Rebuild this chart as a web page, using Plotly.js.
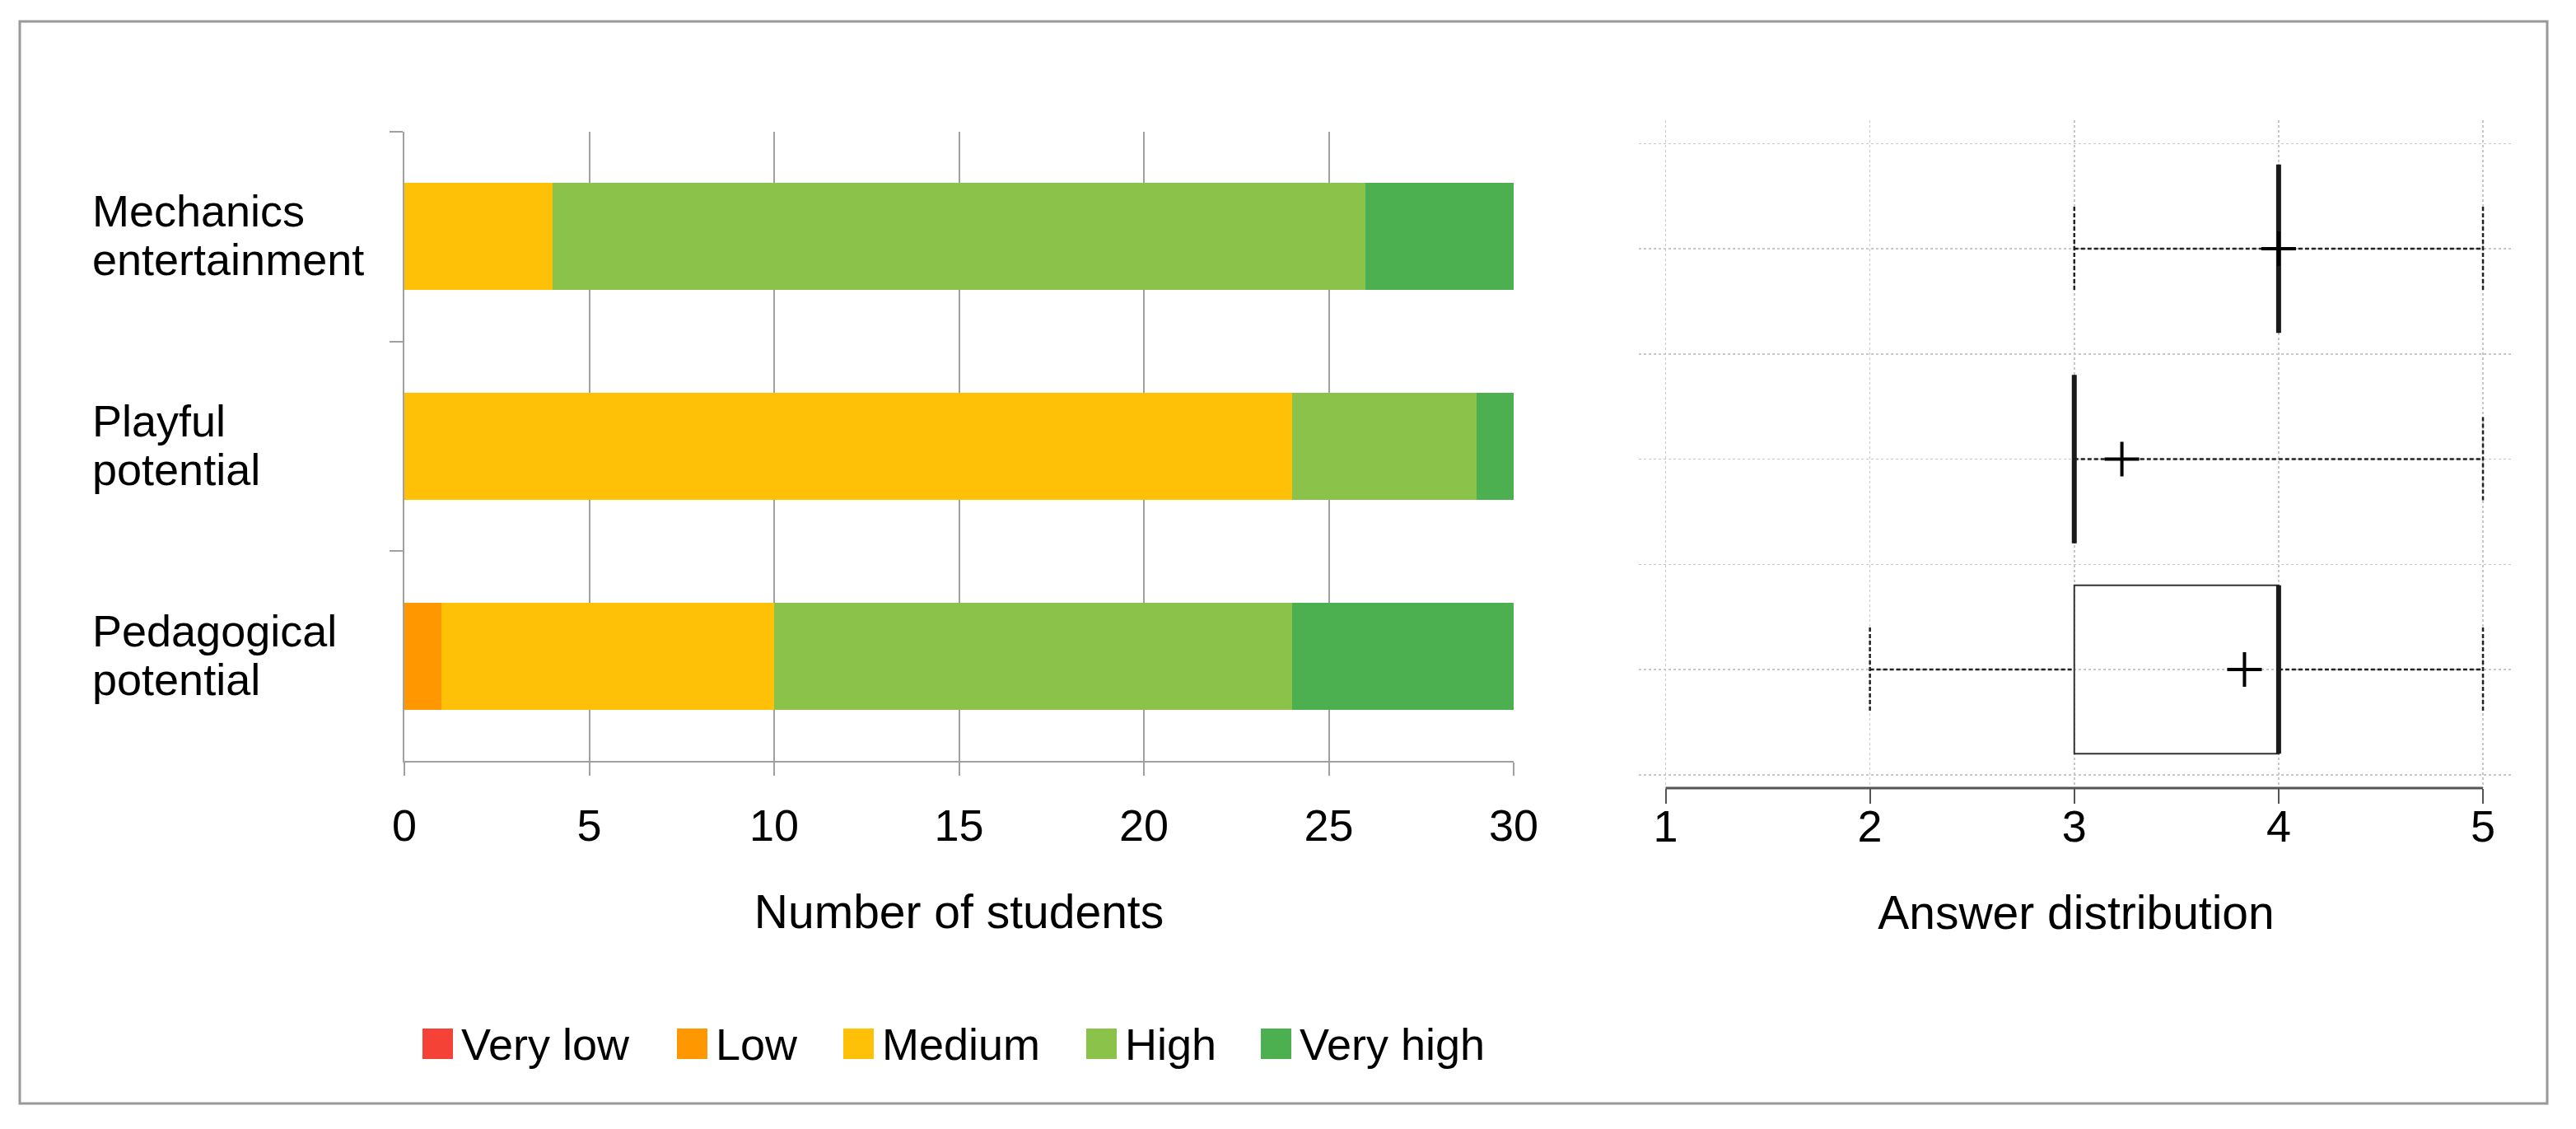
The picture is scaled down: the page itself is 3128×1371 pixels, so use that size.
<!DOCTYPE html>
<html>
<head>
<meta charset="utf-8">
<script src="https://cdn.plot.ly/plotly-3.0.1.min.js"></script>
<style>html,body{margin:0;padding:0;background:#fff;}#chart{width:3128px;height:1371px;}</style>
</head>
<body>
<div id="chart"></div>
<script>
// ---------- data ----------
const categories = ["Mechanics entertainment", "Playful potential", "Pedagogical potential"];
const levels = ["Very low", "Low", "Medium", "High", "Very high"];
const veryLow  = [0, 0, 0];
const low      = [0, 0, 1];
const medium   = [4, 24, 9];
const high     = [22, 5, 14];
const veryHigh = [4, 1, 6];
const countTicks = [0, 5, 10, 15, 20, 25, 30];
const answerTicks = [1, 2, 3, 4, 5];
const boxMin    = [3, 3, 2];
const boxQ1     = [4, 3, 3];
const boxMedian = [4, 3, 4];
const boxQ3     = [4, 3, 4];
const boxMax    = [5, 5, 5];
const boxMean   = [4.0, 3.233, 3.833];
const xTitleLeft = "Number of students";
const xTitleRight = "Answer distribution";

// ---------- styles / layout helpers ----------
const W = 3128, H = 1371;
const px = v => v / W;
const py = v => 1 - v / H;
const FONT = "Liberation Sans, Arial, Helvetica, sans-serif";
const FS = 54;
const TFS = 57;
const levelColors = ["#F44336", "#FF9800", "#FFC107", "#8BC34A", "#4CAF50"];
const legendLeft = [513, 822, 1024, 1319, 1531];
const series = [veryLow, low, medium, high, veryHigh];

const traces = [];
levels.forEach((lv, k) => {
  traces.push({
    type: "bar", orientation: "h", name: lv,
    y: categories, x: series[k],
    marker: {color: levelColors[k], line: {width: 0}},
    xaxis: "x", yaxis: "y", showlegend: false, hoverinfo: "skip"
  });
});

const pos = categories.map((c, i) => i);
const HALF_BOX = 0.4, HALF_CAP = 0.2;

// box body (q1..q3)
traces.push({
  type: "box", orientation: "h", y: pos,
  q1: boxQ1, median: boxMedian, q3: boxQ3,
  lowerfence: boxQ1, upperfence: boxQ3,
  width: 2 * HALF_BOX, whiskerwidth: 0,
  boxpoints: false,
  line: {color: "#333", width: 2}, fillcolor: "rgba(0,0,0,0)",
  xaxis: "x2", yaxis: "y2", showlegend: false, hoverinfo: "skip"
});
// whiskers + caps (dashed)
const wx = [], wy = [];
pos.forEach((p, i) => {
  wx.push(boxMin[i], boxQ1[i], null, boxQ3[i], boxMax[i], null,
          boxMin[i], boxMin[i], null, boxMax[i], boxMax[i], null);
  wy.push(p, p, null, p, p, null,
          p - HALF_CAP, p + HALF_CAP, null, p - HALF_CAP, p + HALF_CAP, null);
});
traces.push({
  type: "scatter", mode: "lines", x: wx, y: wy,
  line: {color: "#222", width: 2.5, dash: "5px,3px"},
  xaxis: "x2", yaxis: "y2", showlegend: false, hoverinfo: "skip"
});
// medians (thick)
const mx = [], my = [];
pos.forEach((p, i) => { mx.push(boxMedian[i], boxMedian[i], null); my.push(p - HALF_BOX, p + HALF_BOX, null); });
traces.push({
  type: "scatter", mode: "lines", x: mx, y: my,
  line: {color: "#1a1a1a", width: 6},
  xaxis: "x2", yaxis: "y2", showlegend: false, hoverinfo: "skip"
});
// means
traces.push({
  type: "scatter", mode: "markers", x: boxMean, y: pos,
  marker: {symbol: "cross-thin", size: 30, line: {color: "#000", width: 4}},
  xaxis: "x2", yaxis: "y2", showlegend: false, hoverinfo: "skip"
});

const annotations = [];
// category labels, left aligned, two lines
categories.forEach(c => {
  const sp = c.indexOf(" ");
  const lines = [c.slice(0, sp), c.slice(sp + 1)];
  annotations.push({xref: "paper", yref: "y", x: px(110), y: c, text: lines[0], showarrow: false,
    xanchor: "left", yanchor: "middle", yshift: 31, font: {family: FONT, size: FS, color: "#000"}});
  annotations.push({xref: "paper", yref: "y", x: px(110), y: c, text: lines[1], showarrow: false,
    xanchor: "left", yanchor: "middle", yshift: -28, font: {family: FONT, size: FS, color: "#000"}});
});
// legend
const shapes = [];
levels.forEach((lv, k) => {
  shapes.push({type: "rect", xref: "paper", yref: "paper",
    x0: px(legendLeft[k]), x1: px(legendLeft[k] + 37), y0: py(1286), y1: py(1249),
    fillcolor: levelColors[k], line: {width: 0}});
  annotations.push({xref: "paper", yref: "paper", x: px(legendLeft[k] + 45), y: py(1268), text: lv,
    showarrow: false, xanchor: "left", yanchor: "middle", font: {family: FONT, size: FS, color: "#000"}});
});
// outer frame
shapes.push({type: "rect", xref: "paper", yref: "paper", x0: px(24), x1: px(3093), y0: py(1340), y1: py(26),
  line: {color: "#999", width: 3}, fillcolor: "rgba(0,0,0,0)", layer: "below"});
// right axis line spanning answer range only
shapes.push({type: "line", xref: "x2", yref: "paper", x0: answerTicks[0], x1: answerTicks[answerTicks.length - 1],
  y0: py(957), y1: py(957), line: {color: "#555", width: 3}});

const layout = {
  width: W, height: H,
  margin: {l: 0, r: 0, t: 0, b: 0, pad: 0},
  paper_bgcolor: "#fff", plot_bgcolor: "rgba(0,0,0,0)",
  font: {family: FONT, size: FS, color: "#000"},
  barmode: "stack", bargap: 0.49,
  showlegend: false, hovermode: false,
  xaxis: {
    domain: [px(491), px(1838)], range: [0, 30], tickvals: countTicks,
    showgrid: true, gridcolor: "#a0a0a0", gridwidth: 2, zeroline: false,
    showline: true, linecolor: "#a0a0a0", linewidth: 2,
    ticks: "outside", ticklen: 16, tickwidth: 2, tickcolor: "#a0a0a0",
    ticklabelstandoff: 14,
    tickfont: {family: FONT, size: FS, color: "#000"},
    title: {text: xTitleLeft, font: {family: FONT, size: TFS, color: "#000"}, standoff: 56},
    anchor: "y", automargin: false, fixedrange: true
  },
  yaxis: {
    domain: [py(924), py(160)], type: "category", categoryarray: categories, categoryorder: "array",
    range: [2.5, -0.5], showgrid: false, zeroline: false,
    showline: true, linecolor: "#a0a0a0", linewidth: 2,
    tickson: "boundaries", ticks: "outside", ticklen: 16, tickwidth: 2, tickcolor: "#a0a0a0",
    showticklabels: false, anchor: "x", automargin: false, fixedrange: true
  },
  xaxis2: {
    domain: [px(1990), px(3052)], range: [0.869, 5.149], tickvals: answerTicks,
    showgrid: true, gridcolor: "#c8c8c8", gridwidth: 1.5, griddash: "dot", zeroline: false,
    showline: false,
    ticks: "outside", ticklen: 18, tickwidth: 2, tickcolor: "#555",
    ticklabelstandoff: -19,
    tickfont: {family: FONT, size: FS, color: "#000"},
    title: {text: xTitleRight, font: {family: FONT, size: TFS, color: "#000"}, standoff: 56},
    anchor: "y2", automargin: false, fixedrange: true
  },
  yaxis2: {
    domain: [py(957), py(146)], type: "linear", range: [2.5636, -0.6106],
    tickvals: [-0.5, 0, 0.5, 1, 1.5, 2, 2.5],
    showgrid: true, gridcolor: "#c8c8c8", gridwidth: 1.5, griddash: "dot", zeroline: false,
    showline: false, ticks: "", showticklabels: false,
    anchor: "x2", automargin: false, fixedrange: true
  },
  shapes: shapes,
  annotations: annotations
};

Plotly.newPlot("chart", traces, layout, {displayModeBar: false, staticPlot: true});
</script>
</body>
</html>
